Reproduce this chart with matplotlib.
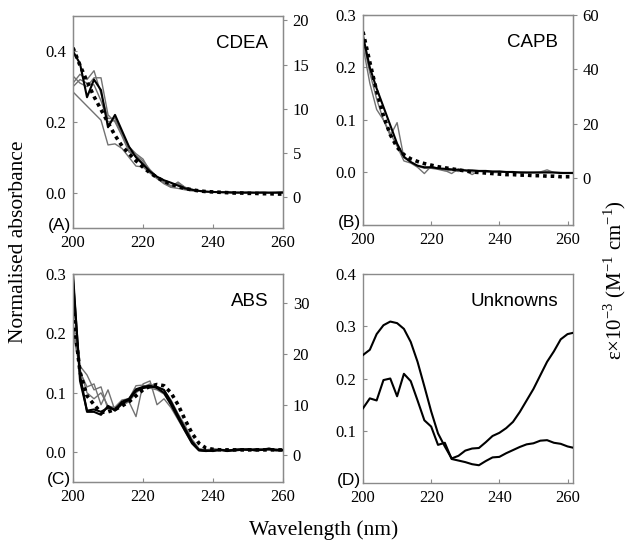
import numpy as np
import matplotlib
matplotlib.use("Agg")
import matplotlib.pyplot as plt

# ---- data ----
WL_AC = list(range(200, 262, 2))   # 200..260
WL_BD = list(range(200, 264, 2))   # 200..262

# (A) CDEA
A_DOTTED = [0.41, 0.36, 0.315, 0.272, 0.235, 0.198, 0.162, 0.132, 0.11, 0.09, 0.072, 0.056,
            0.043, 0.032, 0.024, 0.017, 0.012, 0.008, 0.005, 0.003, 0.002, 0.001, 0.0,
            -0.001, -0.001, -0.002, -0.002, -0.003, -0.003, -0.004, -0.004]
A_BLACK = [0.40, 0.365, 0.27, 0.32, 0.29, 0.185, 0.22, 0.175, 0.13, 0.1, 0.08, 0.06, 0.045,
           0.035, 0.028, 0.02, 0.012, 0.008, 0.005, 0.003, 0.002, 0.001, 0.001,
           0.0, 0.0, 0.0, 0.0, 0.0, 0.0, 0.0, 0.0]
A_GREY = [
    [0.285, 0.265, 0.245, 0.225, 0.205, 0.135, 0.138, 0.125, 0.1, 0.075, 0.073, 0.055, 0.04,
     0.025, 0.015, 0.012, 0.008, 0.005, 0.004, 0.003, 0.002, 0.001, 0.001,
     0.0, 0.0, 0.0, 0.0, 0.0, 0.0, 0.0, 0.0],
    [0.31, 0.335, 0.32, 0.345, 0.28, 0.21, 0.21, 0.17, 0.13, 0.11, 0.095, 0.06, 0.045, 0.03,
     0.015, 0.03, 0.015, 0.008, 0.005, 0.003, 0.002, 0.001, 0.002, 0.001, 0.0, 0.001, 0.0,
     0.001, 0.0, 0.001, 0.002],
    [0.33, 0.31, 0.3, 0.325, 0.325, 0.22, 0.2, 0.16, 0.115, 0.105, 0.09, 0.065, 0.045, 0.03,
     0.02, 0.028, 0.015, 0.01, 0.004, 0.002, 0.001, 0.002, 0.0, 0.001, 0.001, 0.0, 0.0,
     0.001, 0.0, 0.0, 0.003],
    [0.3, 0.32, 0.31, 0.305, 0.26, 0.2, 0.205, 0.165, 0.12, 0.1, 0.085, 0.06, 0.04, 0.028,
     0.018, 0.025, 0.012, 0.007, 0.004, 0.002, 0.001, 0.001, 0.0, 0.0, 0.0, 0.001, 0.0,
     0.0, 0.0, 0.0, 0.001],
]

# (B) CAPB
B_DOTTED = [0.268, 0.21, 0.155, 0.108, 0.072, 0.048, 0.034, 0.026, 0.021, 0.017, 0.014,
            0.011, 0.009, 0.007, 0.005, 0.003, 0.001, 0.0, -0.001, -0.002, -0.003, -0.004,
            -0.004, -0.005, -0.005, -0.006, -0.006, -0.007, -0.007, -0.008, -0.008, -0.008]
B_BLACK = [0.26, 0.2, 0.16, 0.125, 0.09, 0.055, 0.03, 0.02, 0.013, 0.01, 0.01, 0.008, 0.007,
           0.006, 0.005, 0.004, 0.004, 0.003, 0.003, 0.002, 0.002, 0.001, 0.001, 0.0, 0.0,
           0.0, 0.0, 0.0, 0.0, -0.001, -0.001, -0.001]
B_GREY = [
    [0.24, 0.17, 0.12, 0.1, 0.075, 0.05, 0.022, 0.018, 0.01, -0.002, 0.012, 0.008, 0.004,
     -0.002, 0.007, 0.004, -0.004, 0.003, 0.002, 0.0, 0.002, 0.001, 0.0, 0.001, 0.0, 0.0,
     0.001, 0.005, 0.0, 0.0, -0.001, 0.0],
    [0.25, 0.19, 0.14, 0.1, 0.07, 0.095, 0.028, 0.02, 0.012, 0.008, 0.008, 0.006, 0.003,
     0.004, 0.002, 0.004, 0.001, 0.002, 0.001, 0.0, 0.0, 0.001, 0.0, 0.0, 0.0, 0.0, 0.0,
     0.002, 0.0, 0.0, 0.0, 0.0],
]

# (C) ABS
C_DOTTED = [0.235, 0.135, 0.095, 0.08, 0.067, 0.068, 0.072, 0.078, 0.085, 0.095, 0.105,
            0.111, 0.114, 0.112, 0.1, 0.08, 0.055, 0.032, 0.015, 0.007, 0.005, 0.004, 0.004,
            0.004, 0.004, 0.004, 0.004, 0.004, 0.004, 0.004, 0.004]
C_BLACK = [
    [0.29, 0.13, 0.068, 0.068, 0.063, 0.078, 0.07, 0.082, 0.088, 0.103, 0.108, 0.11, 0.11,
     0.105, 0.085, 0.062, 0.04, 0.018, 0.004, 0.003, 0.002, 0.004, 0.003, 0.004, 0.005,
     0.004, 0.005, 0.004, 0.006, 0.004, 0.004],
    [0.3, 0.12, 0.07, 0.072, 0.068, 0.075, 0.072, 0.085, 0.09, 0.106, 0.11, 0.112, 0.108,
     0.1, 0.08, 0.058, 0.036, 0.015, 0.003, 0.002, 0.003, 0.004, 0.002, 0.003, 0.004, 0.005,
     0.003, 0.004, 0.005, 0.003, 0.003],
]
C_GREY = [
    [0.26, 0.145, 0.13, 0.105, 0.11, 0.072, 0.076, 0.088, 0.09, 0.112, 0.113, 0.108, 0.105,
     0.098, 0.08, 0.06, 0.04, 0.02, 0.005, 0.004, 0.006, 0.005, 0.003, 0.005, 0.006, 0.004,
     0.005, 0.006, 0.004, 0.005, 0.004],
    [0.22, 0.135, 0.11, 0.115, 0.08, 0.105, 0.07, 0.08, 0.085, 0.06, 0.115, 0.12, 0.08, 0.09,
     0.075, 0.055, 0.035, 0.015, 0.003, 0.002, 0.003, 0.004, 0.003, 0.004, 0.005, 0.004,
     0.004, 0.005, 0.004, 0.005, 0.004],
    [0.2, 0.14, 0.1, 0.09, 0.1, 0.078, 0.075, 0.08, 0.085, 0.1, 0.11, 0.115, 0.11, 0.104,
     0.088, 0.065, 0.045, 0.022, 0.006, 0.004, 0.003, 0.005, 0.004, 0.003, 0.004, 0.006,
     0.004, 0.005, 0.007, 0.004, 0.005],
]

# (D) Unknowns
D_UPPER = [0.245, 0.255, 0.285, 0.302, 0.309, 0.306, 0.295, 0.27, 0.232, 0.185, 0.137, 0.095,
           0.07, 0.047, 0.052, 0.062, 0.066, 0.067, 0.078, 0.09, 0.096, 0.105, 0.117, 0.136,
           0.158, 0.18, 0.206, 0.232, 0.252, 0.275, 0.285, 0.288]
D_LOWER = [0.143, 0.162, 0.158, 0.197, 0.2, 0.166, 0.209, 0.195, 0.158, 0.12, 0.108, 0.073,
           0.077, 0.046, 0.043, 0.04, 0.036, 0.034, 0.042, 0.049, 0.05, 0.057, 0.063, 0.069,
           0.074, 0.076, 0.081, 0.082, 0.077, 0.075, 0.07, 0.067]

# ---- style ----
SERIF = "Liberation Serif"
SANS = "Liberation Sans"
SPINE = "#8a8a8a"
GREY = "#727272"
plt.rcParams["mathtext.fontset"] = "custom"
plt.rcParams["mathtext.rm"] = SERIF

fig = plt.figure(figsize=(6.3, 5.41), dpi=100)


def make_panel(rect, xlim, ylim, yticks, title, tag, right=None):
    ax = fig.add_axes(rect)
    ax.set_xlim(*xlim)
    ax.set_ylim(*ylim)
    ax.set_xticks([200, 220, 240, 260])
    ax.set_yticks(yticks)
    ax.set_yticklabels([f"{t:.1f}" for t in yticks])
    ax.tick_params(direction="in", length=3, color=SPINE, labelsize=12, pad=5)
    for lab in ax.get_xticklabels() + ax.get_yticklabels():
        lab.set_fontfamily(SERIF)
    for sp in ax.spines.values():
        sp.set_color(SPINE)
        sp.set_linewidth(1.0)
    ax.text(0.93, 0.87, title, transform=ax.transAxes, ha="right", va="center",
            fontsize=13.5, family=SANS)
    ax.text(-0.01, 0.01, tag, transform=ax.transAxes, ha="right", va="center",
            fontsize=12.5, family=SANS)
    if right is not None:
        rlim, rticks = right
        ax2 = ax.twinx()
        ax2.set_ylim(*rlim)
        ax2.set_yticks(rticks)
        ax2.tick_params(direction="out", length=3, color=SPINE, labelsize=12, pad=4)
        for lab in ax2.get_yticklabels():
            lab.set_fontfamily(SERIF)
        for sp in ax2.spines.values():
            sp.set_color(SPINE)
    return ax


def draw_set(ax, wl, dotted, blacks, greys):
    for g in greys:
        ax.plot(wl, g, color=GREY, lw=1.0, zorder=2)
    for b in blacks:
        ax.plot(wl, b, color="black", lw=1.5, zorder=3)
    if dotted is not None:
        ax.plot(wl, dotted, color="black", lw=2.6, linestyle=(0, (1, 1.1)), zorder=4)


axA = make_panel([0.1159, 0.5786, 0.3333, 0.3919], (200, 260), (-0.1, 0.5), [0.0, 0.2, 0.4],
                 "CDEA", "(A)", right=((-3.5, 20.5), [0, 5, 10, 15, 20]))
draw_set(axA, WL_AC, A_DOTTED, [A_BLACK], A_GREY)

axB = make_panel([0.5762, 0.5841, 0.3333, 0.3882], (200, 261.6), (-0.1, 0.3),
                 [0.0, 0.1, 0.2, 0.3], "CAPB", "(B)", right=((-17.3, 60), [0, 20, 40, 60]))
draw_set(axB, WL_BD, B_DOTTED, [B_BLACK], B_GREY)

axC = make_panel([0.1159, 0.1091, 0.3333, 0.3845], (200, 260), (-0.05, 0.3),
                 [0.0, 0.1, 0.2, 0.3], "ABS", "(C)", right=((-5.3, 35.8), [0, 10, 20, 30]))
draw_set(axC, WL_AC, C_DOTTED, C_BLACK, C_GREY)

axD = make_panel([0.5762, 0.1072, 0.3333, 0.3863], (200, 261.6), (0.0, 0.4),
                 [0.1, 0.2, 0.3, 0.4], "Unknowns", "(D)")
draw_set(axD, WL_BD, None, [D_UPPER, D_LOWER], [])

# shared axis labels
fig.text(0.03, 0.553, "Normalised absorbance", rotation=90, ha="center", va="center",
         fontsize=15.5, family=SERIF)
fig.text(0.976, 0.482, "ε×10$^{-3}$ (M$^{-1}$ cm$^{-1}$)", rotation=90,
         ha="center", va="center", fontsize=15, family=SERIF)
fig.text(0.513, 0.02, "Wavelength (nm)", ha="center", va="center", fontsize=15.5, family=SERIF)

fig.savefig("out.png", dpi=100)
